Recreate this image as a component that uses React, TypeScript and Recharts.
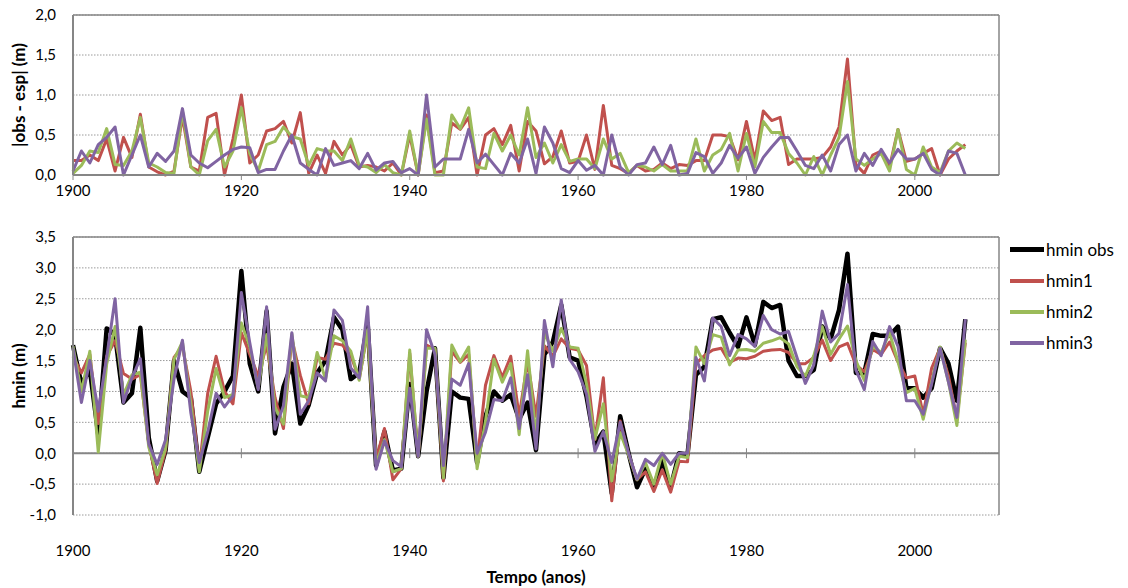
import React from 'react';
import { LineChart, Line, XAxis, YAxis, CartesianGrid, ReferenceLine, Legend } from 'recharts';

const years = [
  1900,1901,1902,1903,1904,1905,1906,1907,1908,1909,1910,1911,1912,1913,1914,1915,1916,1917,1918,1919,
  1920,1921,1922,1923,1924,1925,1926,1927,1928,1929,1930,1931,1932,1933,1934,1935,1936,1937,1938,1939,
  1940,1941,1942,1943,1944,1945,1946,1947,1948,1949,1950,1951,1952,1953,1954,1955,1956,1957,1958,1959,
  1960,1961,1962,1963,1964,1965,1966,1967,1968,1969,1970,1971,1972,1973,1974,1975,1976,1977,1978,1979,
  1980,1981,1982,1983,1984,1985,1986,1987,1988,1989,1990,1991,1992,1993,1994,1995,1996,1997,1998,1999,
  2000,2001,2002,2003,2004,2005,2006,
];

const xTicks = [1900, 1920, 1940, 1960, 1980, 2000];
const topYTicks = [0, 0.5, 1, 1.5, 2];
const bottomYTicks = [-1, -0.5, 0, 0.5, 1, 1.5, 2, 2.5, 3, 3.5];

// |obs - esp| (m)
const diff1 = [0.18,0.18,0.25,0.18,0.45,0.05,0.47,0.22,0.76,0.1,0.04,0,0.05,0.73,0.1,0.05,0.72,0.77,0,0.45,
  1.0,0.15,0.25,0.55,0.58,0.67,0.4,0.78,0.02,0.25,0.02,0.42,0.25,0.38,0.1,0.12,0.1,0.05,0.15,0,
  0.5,0,0.75,0.03,0.05,0.65,0.57,0.72,0,0.5,0.58,0.38,0.62,0.05,0.67,0.55,0.14,0.23,0.55,0.15,
  0.17,0.5,0.07,0.87,0.12,0.08,0.02,0.12,0.05,0.07,0.15,0.08,0.13,0.12,0.18,0.18,0.5,0.5,0.48,0.19,
  0.67,0.18,0.8,0.68,0.72,0.13,0.2,0.2,0.2,0.22,0.35,0.6,1.45,0.13,0.02,0.25,0.3,0.1,0.57,0.17,
  0.2,0.27,0.33,0,0.2,0.3,0.38];
const diff2 = [0.02,0.12,0.3,0.28,0.58,0.13,0.12,0.3,0.72,0.15,0.1,0.03,0.02,0.8,0.1,0,0.43,0.57,0.1,0.3,
  0.84,0.27,0.05,0.38,0.42,0.6,0.48,0.45,0.12,0.33,0.3,0.3,0.18,0.45,0.12,0.1,0.03,0.13,0.03,0,
  0.55,0,0.7,0,0,0.75,0.58,0.84,0.1,0.08,0.52,0.3,0.5,0.25,0.84,0.22,0.4,0.15,0.38,0.17,
  0.2,0.2,0.08,0.45,0.2,0.27,0.03,0.12,0.1,0.05,0.13,0.05,0.05,0.05,0.45,0.05,0.25,0.32,0.52,0.05,
  0.52,0.1,0.67,0.53,0.53,0.27,0.15,0,0.23,0,0.25,0.47,1.17,0.2,0.12,0.2,0.27,0.05,0.57,0.07,
  0,0.35,0.1,0.03,0.3,0.4,0.33];
const diff3 = [0.05,0.3,0.15,0.38,0.47,0.6,0,0.25,0.5,0.1,0.27,0.17,0.3,0.83,0.25,0.15,0.09,0.17,0.25,0.32,
  0.35,0.34,0.03,0.07,0.07,0.3,0.5,0.15,0.07,0,0.33,0.12,0.15,0.18,0.08,0.27,0.06,0.15,0.17,0.03,
  0.08,0,1.0,0.1,0.2,0.2,0.2,0.57,0.15,0.26,0.13,0,0.27,0.15,0.45,0.02,0.6,0.4,0.08,0.03,
  0.18,0.06,0.12,0,0.5,0.1,0,0.13,0.15,0.35,0.13,0.37,0,0.02,0.28,0.23,0.02,0.15,0.37,0.21,
  0.35,0.02,0.22,0.35,0.47,0.47,0.3,0.12,0.08,0.25,0.05,0.38,0.5,0.05,0.27,0.12,0.32,0.15,0.32,0.2,
  0.2,0.27,0.07,0,0.3,0.27,0];

// hmin (m)
const hminObs = [1.75,1.12,1.35,0.3,2.02,1.92,0.82,0.97,2.03,0.25,-0.45,0.05,1.5,1.0,0.9,-0.3,0.25,0.8,1.0,1.25,
  2.95,1.45,1.0,2.3,0.32,1.07,1.45,0.48,0.78,1.3,1.5,2.2,2.0,1.2,1.3,2.1,-0.2,0.35,-0.28,-0.25,
  1.12,-0.05,1.0,1.7,-0.4,1.0,0.9,0.88,-0.15,0.6,1.0,0.85,0.95,0.55,0.82,0.05,1.6,1.8,2.4,1.55,
  1.5,0.92,0.15,0.35,-0.65,0.6,0.0,-0.55,-0.25,-0.55,-0.12,-0.55,0.0,-0.02,1.27,1.4,2.17,2.2,1.95,1.72,
  2.2,1.75,2.45,2.35,2.4,1.5,1.25,1.25,1.35,2.05,1.85,2.32,3.23,1.3,1.3,1.93,1.9,1.9,2.05,1.05,
  1.05,0.9,1.05,1.7,1.45,0.85,2.17];
const hmin1 = [1.57,1.3,1.6,0.48,1.57,1.82,1.29,1.2,1.27,0.15,-0.49,0.05,1.55,1.73,1.0,-0.25,0.97,1.57,1.0,0.8,
  1.95,1.6,1.25,1.75,0.9,0.4,1.85,1.26,0.8,1.55,1.52,1.78,1.75,1.58,1.2,1.98,-0.1,0.4,-0.43,-0.25,
  1.62,-0.05,1.75,1.68,-0.45,1.65,1.47,1.6,-0.15,1.1,1.58,1.23,1.57,0.6,1.49,0.6,1.74,1.57,1.85,1.7,
  1.67,1.42,0.22,1.22,-0.77,0.52,-0.02,-0.43,-0.3,-0.62,-0.27,-0.63,-0.13,-0.14,1.45,1.58,1.67,1.7,1.47,1.54,
  1.53,1.57,1.65,1.67,1.68,1.63,1.45,1.45,1.55,1.83,1.5,1.72,1.78,1.43,1.32,1.68,1.6,1.8,1.48,1.22,
  1.25,0.63,1.38,1.7,1.25,0.55,1.79];
const hmin2 = [1.73,1.0,1.65,0.02,1.44,2.05,0.94,1.27,1.31,0.1,-0.35,0.08,1.52,1.8,0.8,-0.3,0.68,1.37,0.9,0.95,
  2.11,1.72,1.05,1.92,0.74,0.47,1.93,0.93,0.9,1.63,1.2,1.9,1.82,1.65,1.18,2.0,-0.17,0.22,-0.3,-0.25,
  1.67,-0.05,1.7,1.7,-0.4,1.75,1.48,1.72,-0.25,0.52,1.52,1.15,1.45,0.3,1.66,0.27,1.95,1.65,2.02,1.72,
  1.7,1.12,0.23,0.8,-0.45,0.33,-0.03,-0.43,-0.15,-0.5,0.0,-0.5,-0.05,-0.07,1.72,1.45,1.92,1.88,1.43,1.67,
  1.68,1.65,1.78,1.82,1.87,1.77,1.4,1.25,1.58,2.05,1.6,1.85,2.06,1.5,1.18,1.73,1.63,1.95,1.48,0.98,
  1.05,0.55,1.15,1.72,1.15,0.45,1.84];
const hmin3 = [1.7,0.82,1.5,0.68,1.55,2.5,0.82,1.22,1.53,0.15,-0.18,0.22,1.2,1.83,0.65,-0.15,0.34,0.97,0.75,0.93,
  2.6,1.79,1.03,2.37,0.39,0.77,1.95,0.63,0.85,1.3,1.17,2.32,2.15,1.38,1.22,2.37,-0.26,0.2,-0.12,-0.22,
  1.05,-0.05,2.0,1.6,-0.2,1.2,1.1,1.45,0.0,0.34,0.87,0.85,1.22,0.4,1.27,0.07,2.15,1.4,2.48,1.52,
  1.32,0.96,0.03,0.35,-0.15,0.5,0.0,-0.42,-0.1,-0.2,0.0,-0.18,0.0,0.0,1.55,1.17,2.19,2.05,1.58,1.92,
  1.85,1.73,2.23,2.0,1.93,1.97,1.55,1.13,1.43,2.3,1.8,1.94,2.73,1.35,1.03,1.81,1.58,2.05,1.73,0.85,
  0.85,0.63,1.12,1.7,1.15,0.58,2.17];

const seriesNames = ['hmin obs', 'hmin1', 'hmin2', 'hmin3'];
const seriesColors = ['#000000', '#C0504D', '#9BBB59', '#8064A2'];

const topData = years.map((y, i) => ({ year: y, d1: diff1[i], d2: diff2[i], d3: diff3[i] }));
const bottomData = years.map((y, i) => ({ year: y, obs: hminObs[i], h1: hmin1[i], h2: hmin2[i], h3: hmin3[i] }));

const FONT = 'Lato, "Liberation Sans", Arial, sans-serif';
const AXIS = '#868686';
const GRID = '#9a9a9a';
const fmt = (v: number) => v.toFixed(1).replace('.', ',');
const tickStyle = { fontFamily: FONT, fontSize: 15, fill: '#000' };
const titleStyle = { fontFamily: FONT, fontSize: 17, fontWeight: 700, fill: '#000' };

const vTitle = (text: string) => (props: any) => {
  const vb = props.viewBox || { x: 0, y: 0, width: 0, height: 0 };
  const cx = 18;
  const cy = vb.y + vb.height / 2;
  return (
    <text x={cx} y={cy} transform={`rotate(-90 ${cx} ${cy})`} textAnchor="middle" dominantBaseline="central" style={titleStyle}>
      {text}
    </text>
  );
};

const LegendBox = () => (
  <div style={{ fontFamily: FONT, fontSize: 17, color: '#000' }}>
    {seriesNames.map((n, i) => (
      <div key={n} style={{ display: 'flex', alignItems: 'center', height: 31 }}>
        <span style={{ display: 'inline-block', width: 34, height: i === 0 ? 5 : 4, background: seriesColors[i], marginRight: 2 }} />
        <span>{n}</span>
      </div>
    ))}
  </div>
);

export default function App() {
  return (
    <div style={{ position: 'absolute', left: 0, top: 0, width: 1128, height: 588, background: '#fff' }}>
      <div style={{ position: 'absolute', left: 0, top: 0 }}>
        <LineChart width={1128} height={200} data={topData} margin={{ top: 15, right: 129, bottom: 0, left: 0 }}>
          <CartesianGrid horizontal vertical={false} stroke={GRID} strokeDasharray="1.5 1.5" />
          <XAxis dataKey="year" type="number" domain={[1900, 2010]} ticks={xTicks} height={25}
            axisLine={{ stroke: AXIS, strokeWidth: 2 }} tickLine={{ stroke: AXIS }} tickSize={5} tickMargin={5}
            tick={tickStyle} interval={0} />
          <YAxis width={73} domain={[0, 2]} ticks={topYTicks} tickFormatter={fmt} axisLine={{ stroke: AXIS, strokeWidth: 2 }}
            tickLine={false} tickSize={6} tickMargin={11} tick={tickStyle}
            label={vTitle('|obs - esp| (m)')} />
          <ReferenceLine y={2} stroke={AXIS} strokeWidth={1.5} />
          <ReferenceLine x={2010} stroke={AXIS} strokeWidth={1.5} />
          <Line type="linear" dataKey="d1" stroke={seriesColors[1]} strokeWidth={3} dot={false} isAnimationActive={false} strokeLinejoin="round" />
          <Line type="linear" dataKey="d2" stroke={seriesColors[2]} strokeWidth={3} dot={false} isAnimationActive={false} strokeLinejoin="round" />
          <Line type="linear" dataKey="d3" stroke={seriesColors[3]} strokeWidth={3} dot={false} isAnimationActive={false} strokeLinejoin="round" />
        </LineChart>
      </div>
      <div style={{ position: 'absolute', left: 0, top: 200 }}>
        <LineChart width={1128} height={388} data={bottomData} margin={{ top: 37, right: 11, bottom: 0, left: 0 }}>
          <CartesianGrid horizontal vertical={false} stroke={GRID} strokeDasharray="1.5 1.5" />
          <XAxis dataKey="year" type="number" domain={[1900, 2010]} ticks={xTicks} height={73}
            axisLine={false} tickLine={false} tickSize={6} tickMargin={24} tick={tickStyle} interval={0}
            label={{ value: 'Tempo (anos)', position: 'insideBottom', offset: 5, style: titleStyle }} />
          <YAxis width={73} domain={[-1, 3.5]} ticks={bottomYTicks} tickFormatter={fmt} axisLine={{ stroke: AXIS, strokeWidth: 2 }}
            tickLine={false} tickSize={6} tickMargin={11} tick={tickStyle}
            label={vTitle('hmin (m)')} />
          <ReferenceLine y={3.5} stroke={AXIS} strokeWidth={1.5} />
          <ReferenceLine x={2010} stroke={AXIS} strokeWidth={1.5} />
          <ReferenceLine y={0} stroke={AXIS} strokeWidth={2} />
          {xTicks.map((t) => (
            <ReferenceLine key={t} segment={[{ x: t, y: -0.08 }, { x: t, y: 0.08 }]} stroke={AXIS} strokeWidth={1} />
          ))}
          <Legend layout="vertical" align="right" verticalAlign="top" width={118} content={<LegendBox />}
            wrapperStyle={{ left: 1010, top: 34, width: 118 }} />
          <Line type="linear" dataKey="obs" name={seriesNames[0]} stroke={seriesColors[0]} strokeWidth={4.5} dot={false} isAnimationActive={false} strokeLinejoin="round" />
          <Line type="linear" dataKey="h1" name={seriesNames[1]} stroke={seriesColors[1]} strokeWidth={3} dot={false} isAnimationActive={false} strokeLinejoin="round" />
          <Line type="linear" dataKey="h2" name={seriesNames[2]} stroke={seriesColors[2]} strokeWidth={3} dot={false} isAnimationActive={false} strokeLinejoin="round" />
          <Line type="linear" dataKey="h3" name={seriesNames[3]} stroke={seriesColors[3]} strokeWidth={3} dot={false} isAnimationActive={false} strokeLinejoin="round" />
        </LineChart>
      </div>
    </div>
  );
}
